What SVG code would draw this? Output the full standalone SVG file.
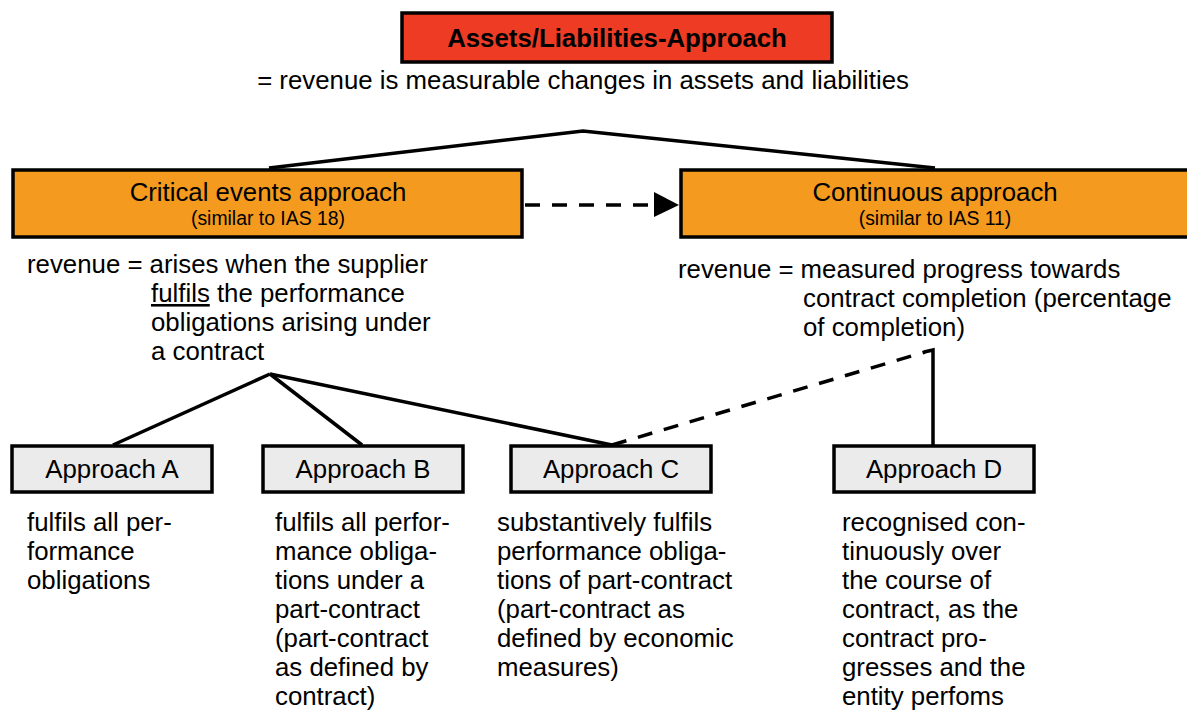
<svg xmlns="http://www.w3.org/2000/svg" width="1187" height="710" viewBox="0 0 1187 710">
<defs>
<style>
text{font-family:"Liberation Sans",Arial,sans-serif;fill:#000}
.t{font-size:25.8px}
.s{font-size:19.4px}
.c{text-anchor:middle}
.b{font-weight:bold}
.box{stroke:#000;stroke-width:3.5}
.red{fill:#EE3B24}
.org{fill:#F39A1F}
.gry{fill:#EBEBEB}
.ln{fill:none;stroke:#000;stroke-width:3.5}
.dash{stroke-dasharray:15 12}
</style>
<marker id="ah" markerWidth="8" markerHeight="8" refX="8" refY="4" orient="auto" markerUnits="userSpaceOnUse" viewBox="0 0 8 8"><path d="M0,0 L8,4 L0,8 Z" fill="#000"/></marker>
</defs>
<rect width="1187" height="710" fill="#fff"/>
<g id="connectors">
<polyline class="ln" points="269,168 583,131 935,168"/>
<line class="ln dash" x1="525" y1="205" x2="652" y2="205"/>
<polygon points="654,192 679,205 654,217" fill="#000"/>
<line class="ln" x1="270" y1="374" x2="113" y2="445"/>
<line class="ln" x1="270" y1="374" x2="362" y2="445"/>
<line class="ln" x1="270" y1="374" x2="612" y2="445"/>
<line class="ln dash" x1="612" y1="445" x2="925" y2="352"/>
<polyline class="ln" points="924,352 933,350 933,445"/>
</g>
<g id="root">
<rect class="box red" x="402" y="13" width="430" height="49"/>
<text class="t c b" x="617" y="47">Assets/Liabilities-Approach</text>
<text class="t c" x="583" y="89">= revenue is measurable changes in assets and liabilities</text>
</g>
<g id="critical">
<rect class="box org" x="13" y="170" width="509" height="67"/>
<text class="t c" x="268" y="201">Critical events approach</text>
<text class="s c" x="268" y="225">(similar to IAS 18)</text>
<text class="t" x="27" y="273">revenue = arises when the supplier</text>
<text class="t" x="151" y="302"><tspan text-decoration="underline">fulfils</tspan> the performance</text>
<text class="t" x="151" y="331">obligations arising under</text>
<text class="t" x="151" y="360">a contract</text>
</g>
<g id="continuous">
<rect class="box org" x="681" y="170" width="510" height="67"/>
<text class="t c" x="935" y="201">Continuous approach</text>
<text class="s c" x="935" y="225">(similar to IAS 11)</text>
<text class="t" x="678" y="278">revenue = measured progress towards</text>
<text class="t" x="803" y="307">contract completion (percentage</text>
<text class="t" x="803" y="336">of completion)</text>
</g>
<g id="approachA">
<rect class="box gry" x="12" y="446" width="200" height="46"/>
<text class="t c" x="112" y="478">Approach A</text>
<text class="t" x="27" y="531">fulfils all per-</text>
<text class="t" x="27" y="560">formance</text>
<text class="t" x="27" y="589">obligations</text>
</g>
<g id="approachB">
<rect class="box gry" x="263" y="446" width="200" height="46"/>
<text class="t c" x="363" y="478">Approach B</text>
<text class="t" x="275" y="531">fulfils all perfor-</text>
<text class="t" x="275" y="560">mance obliga-</text>
<text class="t" x="275" y="589">tions under a</text>
<text class="t" x="275" y="618">part-contract</text>
<text class="t" x="275" y="647">(part-contract</text>
<text class="t" x="275" y="676">as defined by</text>
<text class="t" x="275" y="705">contract)</text>
</g>
<g id="approachC">
<rect class="box gry" x="511" y="446" width="200" height="46"/>
<text class="t c" x="611" y="478">Approach C</text>
<text class="t" x="497" y="531">substantively fulfils</text>
<text class="t" x="497" y="560">performance obliga-</text>
<text class="t" x="497" y="589">tions of part-contract</text>
<text class="t" x="497" y="618">(part-contract as</text>
<text class="t" x="497" y="647">defined by economic</text>
<text class="t" x="497" y="676">measures)</text>
</g>
<g id="approachD">
<rect class="box gry" x="834" y="446" width="200" height="46"/>
<text class="t c" x="934" y="478">Approach D</text>
<text class="t" x="842" y="531">recognised con-</text>
<text class="t" x="842" y="560">tinuously over</text>
<text class="t" x="842" y="589">the course of</text>
<text class="t" x="842" y="618">contract, as the</text>
<text class="t" x="842" y="647">contract pro-</text>
<text class="t" x="842" y="676">gresses and the</text>
<text class="t" x="842" y="705">entity perfoms</text>
</g>
</svg>
